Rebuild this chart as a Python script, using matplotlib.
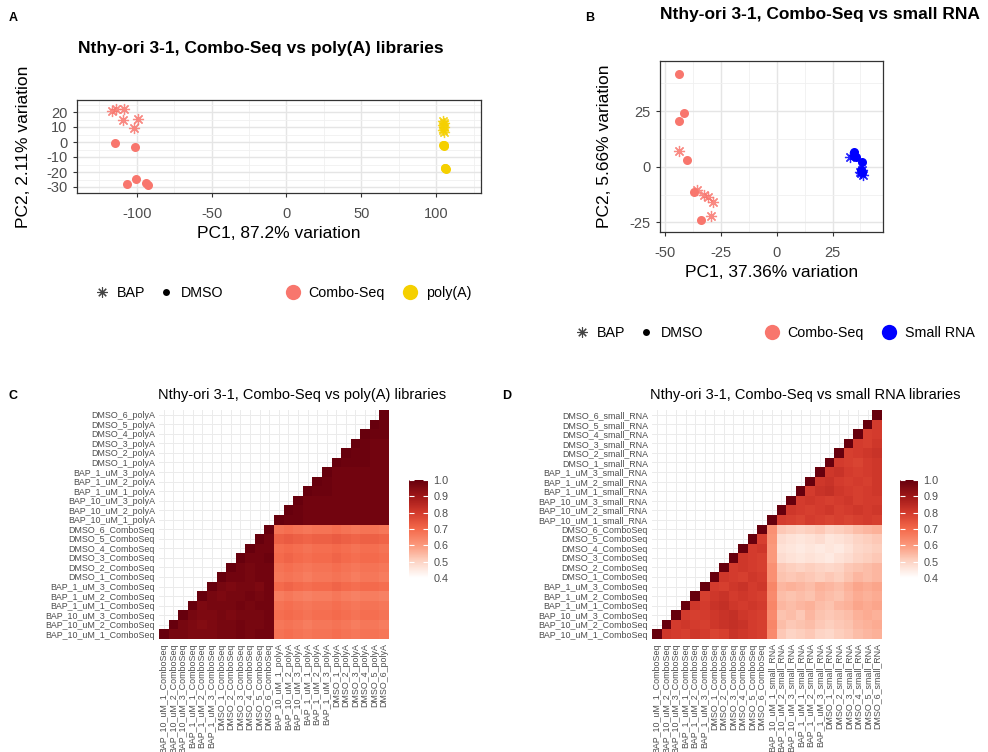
import numpy as np
import matplotlib
matplotlib.use("Agg")
import matplotlib.pyplot as plt
from matplotlib.lines import Line2D
from matplotlib.colors import LinearSegmentedColormap
from matplotlib.ticker import MultipleLocator

plt.rcParams['font.family'] = ['Liberation Sans', 'DejaVu Sans']

# ---------------- PCA data ----------------
a_combo_bap_x = [-116.6, -113.7, -108.4, -109.2, -99.2, -102.2]
a_combo_bap_y = [20.7, 22.0, 22.0, 14.7, 15.3, 9.5]
a_combo_dmso_x = [-114.8, -101.0, -106.6, -100.3, -93.6, -92.5]
a_combo_dmso_y = [-0.5, -3.1, -28.0, -24.7, -27.1, -28.9]
a_polya_bap_x = [104.5, 105.0, 105.5, 104.8, 105.2, 104.6]
a_polya_bap_y = [14.0, 12.5, 10.0, 8.0, 7.0, 11.5]
a_polya_dmso_x = [104.8, 105.3, 105.0, 106.0, 106.5, 105.8]
a_polya_dmso_y = [-2.0, -2.6, -1.8, -17.0, -17.8, -17.3]

b_combo_bap_x = [-43.8, -35.6, -32.6, -30.9, -28.7, -29.6]
b_combo_bap_y = [7.0, -10.5, -12.7, -13.8, -15.7, -22.1]
b_combo_dmso_x = [-43.8, -41.4, -43.7, -40.3, -36.9, -33.9]
b_combo_dmso_y = [41.6, 24.0, 20.4, 2.9, -11.5, -24.1]
b_small_bap_x = [33.0, 34.5, 37.5, 38.5, 37.8, 38.2]
b_small_bap_y = [4.5, 5.5, -2.5, -3.5, -3.0, -1.5]
b_small_dmso_x = [34.5, 34.8, 35.5, 38.0, 37.8, 38.3]
b_small_dmso_y = [6.8, 5.0, 4.2, 2.0, -1.5, -2.5]

# ---------------- heatmap labels ----------------
combo_labels = ["BAP_10_uM_1_ComboSeq", "BAP_10_uM_2_ComboSeq", "BAP_10_uM_3_ComboSeq",
                "BAP_1_uM_1_ComboSeq", "BAP_1_uM_2_ComboSeq", "BAP_1_uM_3_ComboSeq",
                "DMSO_1_ComboSeq", "DMSO_2_ComboSeq", "DMSO_3_ComboSeq",
                "DMSO_4_ComboSeq", "DMSO_5_ComboSeq", "DMSO_6_ComboSeq"]
polya_labels = ["BAP_10_uM_1_polyA", "BAP_10_uM_2_polyA", "BAP_10_uM_3_polyA",
                "BAP_1_uM_1_polyA", "BAP_1_uM_2_polyA", "BAP_1_uM_3_polyA",
                "DMSO_1_polyA", "DMSO_2_polyA", "DMSO_3_polyA",
                "DMSO_4_polyA", "DMSO_5_polyA", "DMSO_6_polyA"]
small_labels = ["BAP_10_uM_1_small_RNA", "BAP_10_uM_2_small_RNA", "BAP_10_uM_3_small_RNA",
                "BAP_1_uM_1_small_RNA", "BAP_1_uM_2_small_RNA", "BAP_1_uM_3_small_RNA",
                "DMSO_1_small_RNA", "DMSO_2_small_RNA", "DMSO_3_small_RNA",
                "DMSO_4_small_RNA", "DMSO_5_small_RNA", "DMSO_6_small_RNA"]

# ---------------- panel C correlations ----------------
c_combo_combo = [
    [1.00, 0.97, 0.97, 0.96, 0.96, 0.96, 0.97, 0.97, 0.98, 0.97, 0.98, 0.98],
    [1.00, 0.97, 0.96, 0.95, 0.96, 0.97, 0.97, 0.98, 0.97, 0.97, 0.98],
    [1.00, 0.97, 0.96, 0.96, 0.97, 0.96, 0.97, 0.97, 0.97, 0.98],
    [1.00, 0.96, 0.97, 0.97, 0.97, 0.98, 0.97, 0.98, 0.98],
    [1.00, 0.97, 0.96, 0.97, 0.97, 0.98, 0.97, 0.98],
    [1.00, 0.97, 0.96, 0.97, 0.97, 0.96, 0.98],
    [1.00, 0.98, 0.98, 0.97, 0.98, 0.98],
    [1.00, 0.98, 0.97, 0.98, 0.98],
    [1.00, 0.98, 0.98, 0.99],
    [1.00, 0.98, 0.98],
    [1.00, 0.98],
    [1.00],
]
c_polya_polya = [
    [1.00, 0.99, 0.99, 0.98, 0.98, 0.98, 0.98, 0.98, 0.98, 0.98, 0.98, 0.98],
    [1.00, 0.99, 0.98, 0.98, 0.98, 0.98, 0.98, 0.98, 0.98, 0.98, 0.98],
    [1.00, 0.98, 0.98, 0.98, 0.98, 0.98, 0.98, 0.98, 0.98, 0.98],
    [1.00, 0.99, 0.99, 0.98, 0.98, 0.98, 0.98, 0.98, 0.98],
    [1.00, 0.99, 0.98, 0.98, 0.98, 0.98, 0.98, 0.98],
    [1.00, 0.98, 0.98, 0.98, 0.98, 0.98, 0.98],
    [1.00, 0.99, 0.99, 0.99, 0.98, 0.98],
    [1.00, 0.99, 0.99, 0.98, 0.98],
    [1.00, 0.99, 0.98, 0.98],
    [1.00, 0.99, 0.99],
    [1.00, 0.99],
    [1.00],
]
c_combo_polya = [
    [0.68, 0.69, 0.68, 0.67, 0.68, 0.68, 0.69, 0.68, 0.67, 0.68, 0.68, 0.67],
    [0.67, 0.68, 0.67, 0.66, 0.67, 0.67, 0.68, 0.67, 0.66, 0.67, 0.67, 0.66],
    [0.69, 0.70, 0.69, 0.68, 0.69, 0.69, 0.70, 0.69, 0.68, 0.69, 0.69, 0.68],
    [0.68, 0.69, 0.68, 0.67, 0.68, 0.68, 0.69, 0.68, 0.67, 0.68, 0.68, 0.67],
    [0.66, 0.67, 0.66, 0.65, 0.66, 0.66, 0.67, 0.66, 0.65, 0.66, 0.66, 0.65],
    [0.70, 0.71, 0.70, 0.69, 0.70, 0.70, 0.71, 0.70, 0.69, 0.70, 0.70, 0.69],
    [0.67, 0.68, 0.67, 0.66, 0.67, 0.67, 0.68, 0.67, 0.66, 0.67, 0.67, 0.66],
    [0.68, 0.69, 0.68, 0.67, 0.68, 0.68, 0.69, 0.68, 0.67, 0.68, 0.68, 0.67],
    [0.70, 0.71, 0.70, 0.69, 0.70, 0.70, 0.71, 0.70, 0.69, 0.70, 0.70, 0.69],
    [0.69, 0.70, 0.69, 0.68, 0.69, 0.69, 0.70, 0.69, 0.68, 0.69, 0.69, 0.68],
    [0.72, 0.73, 0.72, 0.71, 0.72, 0.72, 0.73, 0.72, 0.71, 0.72, 0.72, 0.71],
    [0.68, 0.69, 0.68, 0.67, 0.68, 0.68, 0.69, 0.68, 0.67, 0.68, 0.68, 0.67],
]

# ---------------- panel D correlations ----------------
d_combo_combo = [
    [1.00, 0.81, 0.80, 0.79, 0.81, 0.80, 0.78, 0.79, 0.82, 0.81, 0.80, 0.79],
    [1.00, 0.80, 0.81, 0.80, 0.79, 0.81, 0.82, 0.83, 0.82, 0.80, 0.79],
    [1.00, 0.80, 0.79, 0.80, 0.81, 0.82, 0.83, 0.81, 0.80, 0.79],
    [1.00, 0.81, 0.80, 0.82, 0.83, 0.81, 0.80, 0.81, 0.80],
    [1.00, 0.79, 0.81, 0.82, 0.80, 0.81, 0.80, 0.79],
    [1.00, 0.80, 0.79, 0.81, 0.82, 0.80, 0.81],
    [1.00, 0.81, 0.80, 0.79, 0.81, 0.80],
    [1.00, 0.80, 0.81, 0.80, 0.79],
    [1.00, 0.81, 0.80, 0.79],
    [1.00, 0.80, 0.81],
    [1.00, 0.79],
    [1.00],
]
d_small_small = [
    [1.00, 0.80, 0.79, 0.78, 0.80, 0.79, 0.78, 0.79, 0.78, 0.79, 0.80, 0.79],
    [1.00, 0.81, 0.80, 0.79, 0.80, 0.81, 0.79, 0.80, 0.81, 0.80, 0.81],
    [1.00, 0.80, 0.81, 0.80, 0.79, 0.80, 0.81, 0.79, 0.80, 0.80],
    [1.00, 0.80, 0.82, 0.83, 0.81, 0.80, 0.79, 0.80, 0.81],
    [1.00, 0.81, 0.82, 0.80, 0.79, 0.80, 0.79, 0.81],
    [1.00, 0.81, 0.82, 0.80, 0.79, 0.80, 0.81],
    [1.00, 0.80, 0.79, 0.78, 0.80, 0.81],
    [1.00, 0.79, 0.80, 0.81, 0.82],
    [1.00, 0.80, 0.79, 0.81],
    [1.00, 0.79, 0.80],
    [1.00, 0.80],
    [1.00],
]
d_combo_small = [
    [0.63, 0.52, 0.50, 0.51, 0.52, 0.50, 0.49, 0.51, 0.52, 0.54, 0.55, 0.56],
    [0.64, 0.54, 0.52, 0.53, 0.54, 0.52, 0.51, 0.52, 0.53, 0.55, 0.56, 0.57],
    [0.63, 0.53, 0.54, 0.52, 0.55, 0.53, 0.52, 0.53, 0.54, 0.56, 0.57, 0.56],
    [0.64, 0.55, 0.54, 0.55, 0.56, 0.54, 0.53, 0.55, 0.56, 0.58, 0.57, 0.58],
    [0.63, 0.54, 0.53, 0.54, 0.53, 0.55, 0.54, 0.53, 0.55, 0.57, 0.56, 0.57],
    [0.64, 0.55, 0.56, 0.55, 0.54, 0.56, 0.55, 0.54, 0.56, 0.58, 0.57, 0.58],
    [0.62, 0.53, 0.52, 0.53, 0.52, 0.51, 0.52, 0.51, 0.53, 0.55, 0.54, 0.55],
    [0.62, 0.52, 0.51, 0.50, 0.51, 0.50, 0.49, 0.50, 0.52, 0.53, 0.54, 0.55],
    [0.60, 0.48, 0.47, 0.46, 0.47, 0.46, 0.45, 0.47, 0.48, 0.50, 0.51, 0.52],
    [0.60, 0.47, 0.46, 0.45, 0.46, 0.45, 0.46, 0.45, 0.47, 0.49, 0.50, 0.51],
    [0.61, 0.48, 0.47, 0.46, 0.47, 0.48, 0.46, 0.47, 0.48, 0.50, 0.51, 0.52],
    [0.62, 0.52, 0.51, 0.50, 0.51, 0.52, 0.50, 0.51, 0.52, 0.54, 0.55, 0.56],
]

SALMON = '#F8766D'
GOLD = '#F5D000'
BLUE = '#0000FF'
GREY_TXT = '#4D4D4D'
STAR = (8, 2, 0)

W, H = 988, 752
fig = plt.figure(figsize=(W / 100, H / 100), dpi=100)


def fx(px):
    return px / W


def fy(py):
    return 1 - py / H


def rect(x0, y0, x1, y1):
    return [fx(x0), fy(y1), (x1 - x0) / W, (y1 - y0) / H]


def style_pca(ax):
    for s in ax.spines.values():
        s.set_color('#333333')
        s.set_linewidth(0.9)
    ax.grid(True, which='major', color='#E5E5E5', lw=1.0, zorder=0)
    ax.grid(True, which='minor', color='#F0F0F0', lw=0.6, zorder=0)
    ax.tick_params(which='major', length=3, width=0.8, color='#333333',
                   labelcolor=GREY_TXT, labelsize=10.5)
    ax.tick_params(axis='x', which='major', pad=7)
    ax.tick_params(axis='y', which='major', pad=4)
    ax.tick_params(which='minor', length=0)
    ax.set_axisbelow(True)


def scatter_group(ax, x, y, color, star):
    if star:
        ax.plot(x, y, ls='', marker=STAR, color=color, ms=8, mew=0.9, alpha=0.85, zorder=3)
    else:
        ax.plot(x, y, ls='', marker='o', color=color, ms=6.5, mew=0, zorder=3)


# ---------------- Panel A ----------------
axA = fig.add_axes(rect(77, 100, 481, 193))
scatter_group(axA, a_combo_bap_x, a_combo_bap_y, SALMON, True)
scatter_group(axA, a_combo_dmso_x, a_combo_dmso_y, SALMON, False)
scatter_group(axA, a_polya_bap_x, a_polya_bap_y, GOLD, True)
scatter_group(axA, a_polya_dmso_x, a_polya_dmso_y, GOLD, False)
axA.set_xlim(-140, 130)
axA.set_ylim(-34, 28)
axA.set_xticks([-100, -50, 0, 50, 100])
axA.set_xticklabels(['-100', '-50', '0', '50', '100'])
axA.set_yticks([-30, -20, -10, 0, 10, 20])
axA.set_yticklabels(['-30', '-20', '-10', '0', '10', '20'])
axA.xaxis.set_minor_locator(MultipleLocator(25))
axA.yaxis.set_minor_locator(MultipleLocator(5))
style_pca(axA)
axA.set_xlabel('PC1, 87.2% variation', fontsize=12.5, labelpad=4)
axA.set_ylabel('PC2, 2.11% variation', fontsize=12.5, labelpad=11)
fig.text(fx(261), fy(48), 'Nthy-ori 3-1, Combo-Seq vs poly(A) libraries',
         ha='center', va='center', fontsize=12.5, fontweight='bold')
fig.text(fx(13), fy(18), 'A', ha='center', va='center', fontsize=9, fontweight='bold')

# ---------------- Panel B ----------------
axB = fig.add_axes(rect(660, 61, 883, 232))
scatter_group(axB, b_combo_bap_x, b_combo_bap_y, SALMON, True)
scatter_group(axB, b_combo_dmso_x, b_combo_dmso_y, SALMON, False)
scatter_group(axB, b_small_bap_x, b_small_bap_y, BLUE, True)
scatter_group(axB, b_small_dmso_x, b_small_dmso_y, BLUE, False)
axB.set_xlim(-52.3, 47.6)
axB.set_ylim(-29.3, 47.5)
axB.set_xticks([-50, -25, 0, 25])
axB.set_xticklabels(['-50', '-25', '0', '25'])
axB.set_yticks([-25, 0, 25])
axB.set_yticklabels(['-25', '0', '25'])
axB.xaxis.set_minor_locator(MultipleLocator(12.5))
axB.yaxis.set_minor_locator(MultipleLocator(12.5))
style_pca(axB)
axB.set_xlabel('PC1, 37.36% variation', fontsize=12.5, labelpad=4)
axB.set_ylabel('PC2, 5.66% variation', fontsize=12.5, labelpad=12)
fig.text(fx(820), fy(14), 'Nthy-ori 3-1, Combo-Seq vs small RNA',
         ha='center', va='center', fontsize=12.5, fontweight='bold')
fig.text(fx(590), fy(18), 'B', ha='center', va='center', fontsize=9, fontweight='bold')


# ---------------- legends ----------------
def legends(x_shape, x_color, ypx, second_label, second_color):
    sh = [Line2D([], [], ls='', marker=STAR, color='#444444', ms=7.5, mew=0.8),
          Line2D([], [], ls='', marker='o', color='black', ms=5, mew=0)]
    fig.legend(sh, ['BAP', 'DMSO'], loc='center left', bbox_to_anchor=(fx(x_shape), fy(ypx)),
               ncol=2, frameon=False, fontsize=10.3, handlelength=1.0, handletextpad=0.5,
               columnspacing=1.0, borderpad=0, borderaxespad=0)
    ch = [Line2D([], [], ls='', marker='o', color=SALMON, ms=11, mew=0),
          Line2D([], [], ls='', marker='o', color=second_color, ms=11, mew=0)]
    fig.legend(ch, ['Combo-Seq', second_label], loc='center left',
               bbox_to_anchor=(fx(x_color), fy(ypx)), ncol=2, frameon=False, fontsize=10.3,
               handlelength=1.2, handletextpad=0.5, columnspacing=1.2, borderpad=0,
               borderaxespad=0)


legends(95, 284, 293, 'poly(A)', GOLD)
legends(575, 763, 333, 'Small RNA', BLUE)

# ---------------- heatmaps ----------------
cmap = LinearSegmentedColormap.from_list('corr', [
    (0.0, '#FFFFFF'), (0.17, '#FDD3C3'), (0.33, '#FB9A7D'), (0.5, '#F4694B'),
    (0.67, '#D23A2C'), (0.83, '#A01818'), (1.0, '#67000D')])


def build(block1, block2, cross):
    n1 = len(block1)
    n = n1 + len(block2)
    M = np.full((n, n), np.nan)
    for i, row in enumerate(block1):
        for k, v in enumerate(row):
            M[i, i + k] = v
    for i, row in enumerate(block2):
        for k, v in enumerate(row):
            M[n1 + i, n1 + i + k] = v
    for i, row in enumerate(cross):
        for j, v in enumerate(row):
            M[i, n1 + j] = v
    return np.ma.masked_invalid(M)


def heat(ax_rect, cb_rect, labels, M, title, title_x, letter, letter_x):
    ax = fig.add_axes(ax_rect)
    n = len(labels)
    edges = np.arange(n + 1) - 0.5
    ax.set_xlim(-0.5, n - 0.5)
    ax.set_ylim(-0.5, n - 0.5)
    ax.set_xticks(range(n))
    ax.set_yticks(range(n))
    ax.set_xticklabels(labels, rotation=90, fontsize=6.4, color=GREY_TXT)
    ax.set_yticklabels(labels, fontsize=6.4, color=GREY_TXT)
    ax.tick_params(length=0, pad=3)
    ax.grid(True, color='#EBEBEB', lw=0.7, zorder=0)
    ax.set_axisbelow(True)
    for s in ax.spines.values():
        s.set_visible(False)
    mesh = ax.pcolormesh(edges, edges, M, cmap=cmap, vmin=0.4, vmax=1.0, zorder=2)
    cax = fig.add_axes(cb_rect)
    cb = fig.colorbar(mesh, cax=cax, ticks=[0.4, 0.5, 0.6, 0.7, 0.8, 0.9, 1.0])
    cb.outline.set_visible(False)
    cax.tick_params(which='both', direction='in', length=3.5, width=0.8, color='white',
                    left=True, right=True, labelleft=False, labelright=True,
                    labelsize=7.8, labelcolor=GREY_TXT, pad=4)
    cax.set_yticklabels(['0.4', '0.5', '0.6', '0.7', '0.8', '0.9', '1.0'])
    fig.text(fx(title_x), fy(395), title, ha='center', va='center', fontsize=10.5)
    fig.text(fx(letter_x), fy(396), letter, ha='center', va='center',
             fontsize=9, fontweight='bold')


MC = build(c_combo_combo, c_polya_polya, c_combo_polya)
MD = build(d_combo_combo, d_small_small, d_combo_small)

heat(rect(159, 410, 389, 639), rect(409, 480, 428, 578), combo_labels + polya_labels, MC,
     'Nthy-ori 3-1, Combo-Seq vs poly(A) libraries', 302, 'C', 13)
heat(rect(652, 410, 882, 639), rect(900, 480, 918, 578), combo_labels + small_labels, MD,
     'Nthy-ori 3-1, Combo-Seq vs small RNA libraries', 805, 'D', 507)

fig.savefig('out.png', dpi=100)
